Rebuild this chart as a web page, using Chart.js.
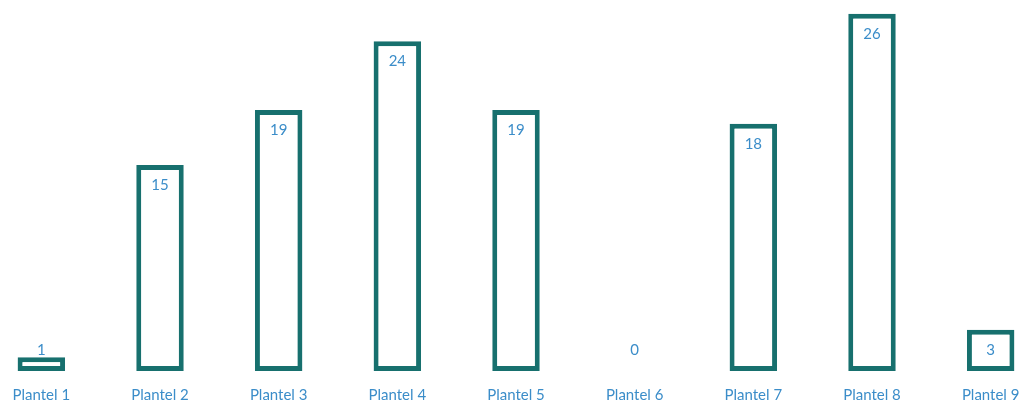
<!DOCTYPE html>
<html>
<head>
<meta charset="utf-8">
<script src="https://cdn.jsdelivr.net/npm/chart.js@4"></script>
<style>
  html, body { margin: 0; padding: 0; background: #fff; overflow: hidden; }
  #wrap { position: relative; width: 1023px; height: 400px; overflow: hidden; }
  #chart { position: absolute; left: -18px; top: 0; }
</style>
</head>
<body>
<div id="wrap"><canvas id="chart" width="1068" height="400"></canvas></div>
<script>
const categories = ["Plantel 1", "Plantel 2", "Plantel 3", "Plantel 4", "Plantel 5", "Plantel 6", "Plantel 7", "Plantel 8", "Plantel 9"];
const values = [1, 15, 19, 24, 19, 0, 18, 26, 3];

const outline = "#17706e";
const textBlue = "#3b8dc9";

// etiquetas de valor dentro de la barra, cerca del extremo superior
const valueLabels = {
    id: "valueLabels",
    afterDatasetsDraw(chart) {
        const ctx = chart.ctx;
        const meta = chart.getDatasetMeta(0);
        ctx.save();
        ctx.fillStyle = textBlue;
        ctx.font = "15px Lato";
        ctx.textAlign = "center";
        ctx.textBaseline = "middle";
        meta.data.forEach((bar, i) => {
            const y = Math.min(bar.y + 20, bar.base - 21);
            ctx.fillText(String(values[i]), bar.x, y);
        });
        ctx.restore();
    }
};

new Chart(document.getElementById("chart"), {
    type: "bar",
    data: {
        labels: categories,
        datasets: [{
            data: values,
            backgroundColor: "#ffffff",
            borderColor: outline,
            borderWidth: 5,
            borderSkipped: false,
            barPercentage: 0.4,
            categoryPercentage: 1
        }]
    },
    options: {
        responsive: false,
        animation: false,
        layout: { padding: 0 },
        plugins: {
            legend: { display: false },
            tooltip: { enabled: false }
        },
        scales: {
            x: {
                grid: { display: false },
                border: { display: false },
                ticks: {
                    color: textBlue,
                    font: { family: "Lato", size: 15 },
                    padding: 7,
                    maxRotation: 0
                },
                afterFit(scale) { scale.height = 29; }
            },
            y: {
                display: false,
                min: 0,
                max: 27
            }
        }
    },
    plugins: [valueLabels]
});
</script>
</body>
</html>
